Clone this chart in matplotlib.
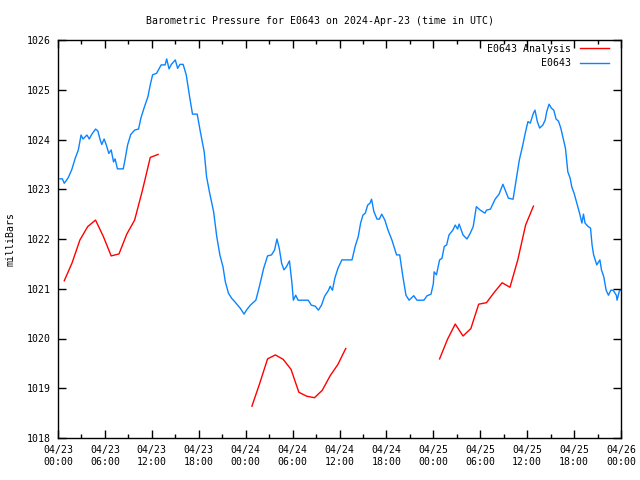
import numpy as np
import pandas as pd
import matplotlib
matplotlib.use("Agg")
import matplotlib.pyplot as plt
import matplotlib.dates as mdates

# ─────────────────────────────────────────────
# data (hours after 2024-04-23 00:00 UTC, mbar)
# ─────────────────────────────────────────────

START = pd.Timestamp("2024-04-23 00:00")

obs_hours = [
    0.25, 0.55, 0.8, 1.3, 1.75, 2.2, 2.6, 2.95, 3.2, 3.7, 4.0, 4.3, 4.8, 5.1,
    5.4, 5.6, 5.9, 6.2, 6.5, 6.8, 7.1, 7.3, 7.6, 8.35, 8.6, 8.9, 9.3, 9.8,
    10.3, 10.6, 11.0, 11.5, 11.8, 12.1, 12.6, 13.2, 13.7, 13.9, 14.2, 14.5,
    15.0, 15.3, 15.6, 16.0, 16.4, 16.8, 17.2, 17.8, 18.2, 18.7, 19.0, 19.4,
    19.9, 20.3, 20.7, 21.1, 21.4, 21.8, 22.2, 22.6, 23.3, 23.8, 24.1, 24.6,
    25.3, 25.7, 26.0, 26.3, 26.8, 27.3, 27.7, 28.0, 28.3, 28.6, 28.9, 29.2,
    29.6, 29.9, 30.1, 30.4, 30.7, 32.0, 32.4, 32.9, 33.3, 33.7, 34.1, 34.6,
    34.8, 35.1, 35.4, 35.8, 36.3, 37.6, 38.0, 38.4, 38.7, 39.0, 39.3, 39.6,
    39.9, 40.1, 40.4, 40.8, 41.1, 41.4, 41.8, 42.2, 42.7, 43.1, 43.3, 43.7,
    44.1, 44.5, 44.9, 45.5, 45.9, 46.8, 47.2, 47.7, 48.0, 48.1, 48.4, 48.8,
    49.1, 49.4, 49.7, 50.0, 50.5, 50.8, 51.1, 51.3, 51.8, 52.3, 52.7, 53.1,
    53.5, 54.0, 54.6, 54.8, 55.3, 55.9, 56.4, 56.9, 57.2, 57.6, 58.2, 58.7,
    59.0, 59.4, 59.8, 60.1, 60.4, 60.8, 61.0, 61.3, 61.6, 62.0, 62.3, 62.5,
    62.8, 63.1, 63.4, 63.7, 64.0, 64.3, 64.6, 64.9, 65.2, 65.5, 65.7, 66.0,
    66.3, 66.7, 67.0, 67.2, 67.4, 67.8, 68.1, 68.3, 68.5, 68.9, 69.3, 69.5,
    69.8, 70.1, 70.4, 70.7, 71.0, 71.4, 71.5, 71.8, 72.0,
]
obs_mbar = [
    1023.21, 1023.21, 1023.12, 1023.23, 1023.39, 1023.62, 1023.79, 1024.09,
    1024.01, 1024.09, 1024.01, 1024.10, 1024.21, 1024.17, 1023.99, 1023.90,
    1024.01, 1023.88, 1023.72, 1023.79, 1023.55, 1023.61, 1023.41, 1023.41,
    1023.62, 1023.89, 1024.10, 1024.19, 1024.21, 1024.43, 1024.63, 1024.86,
    1025.10, 1025.30, 1025.33, 1025.50, 1025.50, 1025.62, 1025.42, 1025.51,
    1025.60, 1025.43, 1025.51, 1025.51, 1025.30, 1024.89, 1024.51, 1024.51,
    1024.16, 1023.75, 1023.25, 1022.92, 1022.55, 1022.05, 1021.68, 1021.44,
    1021.14, 1020.91, 1020.81, 1020.74, 1020.61, 1020.49, 1020.57, 1020.67,
    1020.77, 1021.01, 1021.21, 1021.41, 1021.66, 1021.68, 1021.78, 1022.00,
    1021.81, 1021.51, 1021.38, 1021.44, 1021.56, 1021.14, 1020.77, 1020.87,
    1020.77, 1020.77, 1020.67, 1020.65, 1020.57, 1020.67, 1020.85, 1020.97,
    1021.05, 1020.97, 1021.21, 1021.41, 1021.58, 1021.58, 1021.85, 1022.05,
    1022.32, 1022.48, 1022.52, 1022.68, 1022.72, 1022.80, 1022.55, 1022.40,
    1022.40, 1022.50, 1022.38, 1022.18, 1021.98, 1021.78, 1021.68, 1021.68,
    1021.25, 1020.87, 1020.77, 1020.86, 1020.77, 1020.77, 1020.86, 1020.89,
    1021.10, 1021.34, 1021.28, 1021.58, 1021.61, 1021.85, 1021.88, 1022.08,
    1022.18, 1022.28, 1022.20, 1022.30, 1022.08, 1022.00, 1022.11, 1022.25,
    1022.65, 1022.58, 1022.52, 1022.58, 1022.60, 1022.80, 1022.90, 1023.10,
    1022.98, 1022.82, 1022.80, 1023.29, 1023.59, 1023.86, 1024.16, 1024.36,
    1024.33, 1024.53, 1024.59, 1024.36, 1024.23, 1024.29, 1024.39, 1024.56,
    1024.71, 1024.63, 1024.59, 1024.41, 1024.37, 1024.23, 1024.02, 1023.82,
    1023.35, 1023.22, 1023.05, 1022.92, 1022.75, 1022.52, 1022.32, 1022.50,
    1022.32, 1022.25, 1022.22, 1021.88, 1021.68, 1021.48, 1021.58, 1021.38,
    1021.24, 1020.97, 1020.87, 1020.97, 1020.97, 1020.87, 1020.77, 1020.96,
    1020.97,
]

# analysis runs (three separate 12 h forecasts)
ana1_hours = [0.8, 1.8, 2.8, 3.8, 4.8, 5.8, 6.8, 7.8, 8.8, 9.8, 10.8, 11.8, 12.8]
ana1_mbar = [1021.16, 1021.52, 1021.98, 1022.25, 1022.38, 1022.05, 1021.66,
             1021.70, 1022.10, 1022.38, 1022.98, 1023.64, 1023.70]
ana2_hours = [24.8, 25.8, 26.8, 27.8, 28.8, 29.8, 30.8, 31.8, 32.8, 33.8, 34.8, 35.8, 36.8]
ana2_mbar = [1018.64, 1019.10, 1019.59, 1019.67, 1019.58, 1019.38, 1018.92,
             1018.84, 1018.81, 1018.96, 1019.25, 1019.48, 1019.80]
ana3_hours = [48.8, 49.8, 50.8, 51.8, 52.8, 53.8, 54.8, 55.8, 56.8, 57.8, 58.8, 59.8, 60.8]
ana3_mbar = [1019.59, 1019.98, 1020.29, 1020.05, 1020.20, 1020.69, 1020.72,
             1020.93, 1021.12, 1021.03, 1021.58, 1022.28, 1022.66]

station = "E0643"
y_ticks = [1018, 1019, 1020, 1021, 1022, 1023, 1024, 1025, 1026]

FONT = "DejaVu Sans Mono"
FS = 7.1
BLUE = "#0a84ff"
RED = "#ff0000"


def to_time(hours):
    return START + pd.to_timedelta(np.asarray(hours), unit="h")


fig = plt.figure(figsize=(6.4, 4.8), dpi=100)
ax = fig.add_axes([58 / 640, 42 / 480, 563 / 640, 398 / 480])

first = True
for h, p in [(ana1_hours, ana1_mbar), (ana2_hours, ana2_mbar), (ana3_hours, ana3_mbar)]:
    ax.plot(to_time(h), p, color=RED, linewidth=1.0,
            label=f"{station} Analysis" if first else None)
    first = False
ax.plot(to_time(obs_hours), obs_mbar, color=BLUE, linewidth=1.0, label=station)

ax.set_xlim(START, START + pd.Timedelta(hours=72))
ax.set_ylim(1018, 1026)
ax.set_yticks(y_ticks)

ax.xaxis.set_major_locator(mdates.HourLocator(byhour=[0, 6, 12, 18]))
ax.xaxis.set_minor_locator(mdates.HourLocator(byhour=[3, 9, 15, 21]))
ax.xaxis.set_major_formatter(mdates.DateFormatter("%m/%d\n%H:%M"))

ax.tick_params(which="both", direction="in", top=True, right=True,
               labelsize=FS, width=1, colors="black")
ax.tick_params(which="major", length=6, pad=5)
ax.tick_params(which="minor", length=3)
for lab in ax.get_xticklabels() + ax.get_yticklabels():
    lab.set_fontfamily(FONT)
for s in ax.spines.values():
    s.set_linewidth(1)

ax.set_ylabel("milliBars", fontsize=FS, fontfamily=FONT, labelpad=8)
fig.suptitle(f"Barometric Pressure for {station} on 2024-Apr-23 (time in UTC)",
             fontsize=FS, fontfamily=FONT, y=0.966)

leg = ax.legend(loc="upper right", frameon=False, markerfirst=False,
                prop={"family": FONT, "size": FS}, handlelength=2.9,
                handletextpad=1.0, labelspacing=0.45, borderaxespad=0.3,
                bbox_to_anchor=(0.991, 1.008))

fig.savefig("out.png", dpi=100)
